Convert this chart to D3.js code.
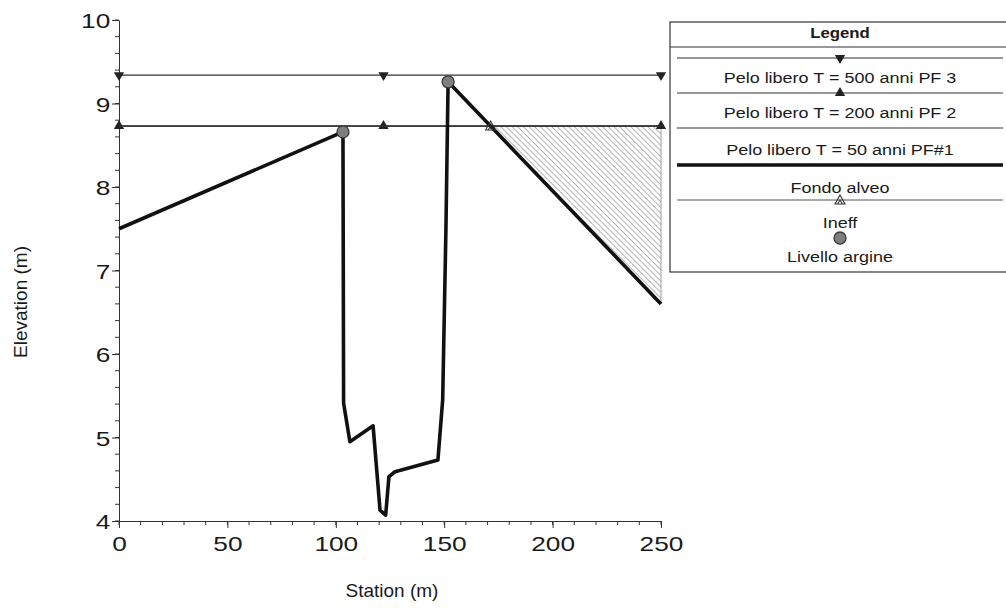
<!DOCTYPE html>
<html>
<head>
<meta charset="utf-8">
<script src="https://cdn.jsdelivr.net/npm/d3@7"></script>
<style>
  body { margin: 0; background: #fff; }
  text { font-family: "Liberation Sans", Arial, sans-serif; fill: #1a1a1a; }
</style>
</head>
<body>
<div id="chart"></div>
<script>
// ground profile (Fondo alveo)
var groundStation = [0, 103.3, 103.6, 106.5, 117.2, 120.4, 123.0, 124.5, 127.3, 147.1, 149.3, 150.8, 151.8, 250];
var groundElev    = [7.50, 8.66, 5.41, 4.95, 5.14, 4.13, 4.07, 4.53, 4.59, 4.73, 5.45, 7.50, 9.26, 6.60];

// water surfaces
var wsNames = ["Pelo libero T = 500 anni PF 3", "Pelo libero T = 200 anni PF 2", "Pelo libero T = 50 anni PF#1"];
var wsElev = [9.34, 8.73, 8.73];
var wsMarkerStation = [0, 122, 250];

// levees (Livello argine)
var leveeStation = [103.3, 151.8];
var leveeElev = [8.66, 9.26];

// ineffective flow area
var ineffStation = [171.4, 250];
var ineffElev = 8.73;

var xTicks = [0, 50, 100, 150, 200, 250];
var yTicks = [4, 5, 6, 7, 8, 9, 10];

var W = 1006, H = 608;
var margin = { top: 20, right: 345, bottom: 87, left: 119 };

var svg = d3.select("#chart").append("svg")
  .attr("width", W)
  .attr("height", H);

var x = d3.scaleLinear().domain([0, 250]).range([margin.left, W - margin.right]);
var y = d3.scaleLinear().domain([4, 10]).range([H - margin.bottom, margin.top]);

// hatch pattern for ineffective area
var defs = svg.append("defs");
defs.append("pattern")
  .attr("id", "hatch")
  .attr("patternUnits", "userSpaceOnUse")
  .attr("width", 4)
  .attr("height", 4)
  .attr("patternTransform", "rotate(-45)")
  .append("line")
  .attr("x1", 0).attr("y1", 0).attr("x2", 0).attr("y2", 4)
  .attr("stroke", "#777")
  .attr("stroke-width", 1.1);

// ---------- axes ----------
var yAxis = svg.append("g").attr("transform", "translate(" + x(0) + ",0)");
yAxis.call(d3.axisLeft(y).tickValues(yTicks).tickFormat(d3.format("d")).tickSize(7).tickPadding(0).tickSizeOuter(0));
yAxis.selectAll("text").style("font-size", "21px").attr("dy", "0.36em")
  .attr("transform", "scale(1.25,1)");
var yMinor = d3.range(4, 10.001, 0.2);
yAxis.selectAll(".minor").data(yMinor).enter().append("line")
  .attr("class", "minor")
  .attr("x1", -4).attr("x2", 0)
  .attr("y1", function (d) { return y(d); })
  .attr("y2", function (d) { return y(d); })
  .attr("stroke", "#333");

var xAxis = svg.append("g").attr("transform", "translate(0," + y(4) + ")");
xAxis.call(d3.axisBottom(x).tickValues(xTicks).tickSize(7).tickPadding(8).tickSizeOuter(0));
xAxis.selectAll("text").style("font-size", "21px")
  .attr("transform", "scale(1.25,1)");
var xMinor = d3.range(0, 250.001, 10);
xAxis.selectAll(".minor").data(xMinor).enter().append("line")
  .attr("class", "minor")
  .attr("y1", 0).attr("y2", 4)
  .attr("x1", function (d) { return x(d); })
  .attr("x2", function (d) { return x(d); })
  .attr("stroke", "#333");

svg.selectAll(".domain, .tick line").attr("stroke", "#333");

svg.append("text")
  .attr("transform", "translate(27,302) rotate(-90)")
  .attr("text-anchor", "middle")
  .style("font-size", "19px")
  .text("Elevation (m)");

svg.append("text")
  .attr("x", (x(0) + x(250)) / 2 + 2)
  .attr("y", 597)
  .attr("text-anchor", "middle")
  .style("font-size", "19px")
  .text("Station (m)");

// ---------- ineffective area ----------
var groundAt = function (s) {
  for (var i = 1; i < groundStation.length; i++) {
    if (s <= groundStation[i]) {
      var t = (s - groundStation[i - 1]) / (groundStation[i] - groundStation[i - 1]);
      return groundElev[i - 1] + t * (groundElev[i] - groundElev[i - 1]);
    }
  }
  return groundElev[groundElev.length - 1];
};
var ineffPoly = [[ineffStation[0], ineffElev], [ineffStation[1], ineffElev], [ineffStation[1], groundAt(ineffStation[1])], [ineffStation[0], groundAt(ineffStation[0])]];
svg.append("path")
  .attr("d", d3.line().x(function (d) { return x(d[0]); }).y(function (d) { return y(d[1]); })(ineffPoly) + "Z")
  .attr("fill", "url(#hatch)")
  .attr("stroke", "#888")
  .attr("stroke-width", 0.8);

// ---------- water surfaces ----------
var triUp = d3.symbol().type(d3.symbolTriangle).size(46);
wsElev.forEach(function (e, i) {
  svg.append("line")
    .attr("x1", x(0)).attr("x2", x(250))
    .attr("y1", y(e)).attr("y2", y(e))
    .attr("stroke", "#333")
    .attr("stroke-width", i == 1 ? 1.6 : 1.2);
  if (i < 2) {
    svg.selectAll(".mk" + i).data(wsMarkerStation).enter().append("path")
      .attr("class", "mk" + i)
      .attr("d", triUp)
      .attr("transform", function (d) {
        return "translate(" + x(d) + "," + y(e) + ")" + (i == 0 ? " rotate(180)" : "");
      })
      .attr("fill", "#222");
  }
});

// ---------- ground ----------
var groundLine = d3.line()
  .x(function (d, i) { return x(groundStation[i]); })
  .y(function (d) { return y(d); });
svg.append("path")
  .attr("d", groundLine(groundElev))
  .attr("fill", "none")
  .attr("stroke", "#111")
  .attr("stroke-width", 3.6)
  .attr("stroke-linejoin", "round");

// ineff marker
function ineffMarker(g, cx, cy) {
  g.append("path")
    .attr("d", "M" + cx + "," + (cy - 5) + "L" + (cx + 5) + "," + (cy + 4) + "L" + (cx - 5) + "," + (cy + 4) + "Z M" + (cx - 2.5) + "," + (cy + 4) + "L" + cx + "," + cy + "L" + (cx + 2.5) + "," + (cy + 4))
    .attr("fill", "none")
    .attr("stroke", "#333")
    .attr("stroke-width", 1.1);
}
ineffMarker(svg, x(ineffStation[0]), y(ineffElev));

// levee markers
function leveeMarker(g, cx, cy) {
  g.append("circle")
    .attr("cx", cx).attr("cy", cy).attr("r", 6)
    .attr("fill", "#7f7f7f")
    .attr("stroke", "#3a3a3a")
    .attr("stroke-width", 1.3);
}
leveeStation.forEach(function (s, i) { leveeMarker(svg, x(s), y(leveeElev[i])); });

// ---------- legend ----------
var lg = svg.append("g");
var lx0 = 670, lx1 = 1010, lcx = 840;
function legendText(t, ty, bold) {
  lg.append("text")
    .attr("transform", "translate(" + lcx + "," + ty + ") scale(1.2,1)")
    .attr("text-anchor", "middle")
    .style("font-size", bold ? "14px" : "15px")
    .style("font-weight", bold ? "bold" : "normal")
    .text(t);
}
lg.append("rect")
  .attr("x", lx0).attr("y", 22)
  .attr("width", lx1 - lx0).attr("height", 250)
  .attr("fill", "#fff")
  .attr("stroke", "#333")
  .attr("stroke-width", 1.2);
legendText("Legend", 38, true);
lg.append("line")
  .attr("x1", lx0).attr("x2", lx1).attr("y1", 47).attr("y2", 47)
  .attr("stroke", "#333").attr("stroke-width", 1.2);

var rowLineY = [58, 93, 128];
var rowTextY = [83, 118, 155];
wsNames.forEach(function (n, i) {
  lg.append("line")
    .attr("x1", 677).attr("x2", 1003)
    .attr("y1", rowLineY[i]).attr("y2", rowLineY[i])
    .attr("stroke", "#333").attr("stroke-width", 1.1);
  if (i < 2) {
    lg.append("path")
      .attr("d", triUp)
      .attr("transform", "translate(" + lcx + "," + rowLineY[i] + ")" + (i == 0 ? " rotate(180)" : ""))
      .attr("fill", "#222");
  }
  legendText(n, rowTextY[i]);
});

lg.append("line")
  .attr("x1", 677).attr("x2", 1003).attr("y1", 165).attr("y2", 165)
  .attr("stroke", "#111").attr("stroke-width", 3.6);
legendText("Fondo alveo", 193);

lg.append("line")
  .attr("x1", 677).attr("x2", 1003).attr("y1", 200).attr("y2", 200)
  .attr("stroke", "#555").attr("stroke-width", 1);
ineffMarker(lg, lcx, 200);
legendText("Ineff", 228);

leveeMarker(lg, lcx, 238);
legendText("Livello argine", 262);
</script>
</body>
</html>
